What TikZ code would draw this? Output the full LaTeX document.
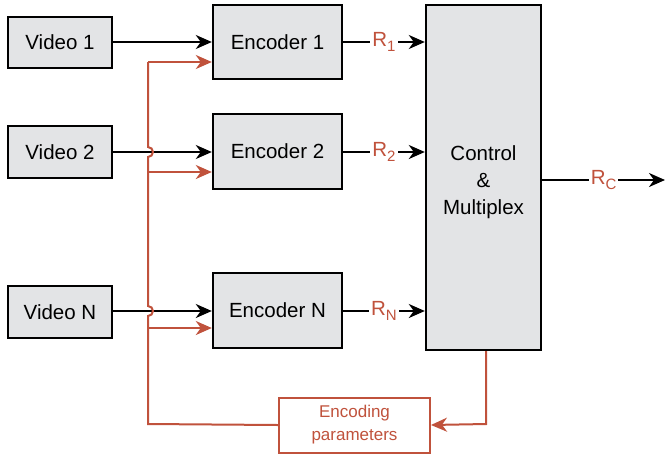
\documentclass[tikz,border=0pt]{standalone}
\usepackage{fontspec}
\setmainfont{Liberation Sans}
\usetikzlibrary{arrows.meta}
\definecolor{redc}{RGB}{192,82,60}
\definecolor{boxgray}{RGB}{227,228,230}
\tikzset{
  blk/.style={draw=black, line width=2.4pt, fill=boxgray, font=\fontsize{20.5}{24}\selectfont, inner sep=0pt},
  parbox/.style={draw=redc, line width=2pt, fill=white, text=redc, font=\fontsize{17}{23}\selectfont, align=center, inner sep=0pt},
  barrow/.style={line width=2pt, -{Stealth[length=16pt,width=14pt,inset=5pt]}},
  rarrow/.style={draw=redc, line width=2pt, -{Stealth[length=16pt,width=14pt,inset=5pt]}},
  rline/.style={draw=redc, line width=2pt},
  rlab/.style={fill=white, text=redc, inner sep=2pt, font=\fontsize{20.5}{24}\selectfont},
}
\newcommand{\Rsub}[1]{R\raisebox{-0.45ex}{\fontsize{15}{15}\selectfont #1}}
\begin{document}
\begin{tikzpicture}[x=1pt,y=-1pt]
\useasboundingbox (0,0) rectangle (666,456);
% nodes
\node[blk, minimum width=104pt, minimum height=51pt] (v1) at (60,42.5) {Video 1};
\node[blk, minimum width=104pt, minimum height=52pt] (v2) at (60,152) {Video 2};
\node[blk, minimum width=104pt, minimum height=52pt] (vN) at (60,312) {Video N};
\node[blk, minimum width=129pt, minimum height=74pt] (e1) at (277.5,42) {Encoder 1};
\node[blk, minimum width=129pt, minimum height=75pt] (e2) at (277.5,151.5) {Encoder 2};
\node[blk, minimum width=129pt, minimum height=75pt] (eN) at (277.5,310.5) {Encoder N};
\node[blk, minimum width=115pt, minimum height=345pt] (ctrl) at (483.5,177.5) {};
\node[align=center, inner sep=0pt, font=\fontsize{20.5}{27}\selectfont] (ctrltext) at (483.5,182) {Control\\\&\\Multiplex};
\node[parbox, minimum width=151pt, minimum height=55pt] (ep) at (354.5,425) {Encoding\\parameters};
\coordinate (out) at (665,180);
\coordinate (tl) at (148,62);
\coordinate (bl) at (148,424);
\coordinate (br) at (486,424);
% black input arrows
\draw[barrow] (v1.east |- 0,42) -- (e1.west |- 0,42);
\draw[barrow] (v2.east |- 0,152) -- (e2.west |- 0,152);
\draw[barrow] (vN.east |- 0,311) -- (eN.west |- 0,311);
% rate arrows
\draw[barrow] (e1.east |- 0,42) -- node[rlab]{\Rsub{1}} (ctrl.west |- 0,42);
\draw[barrow] (e2.east |- 0,152) -- node[rlab]{\Rsub{2}} (ctrl.west |- 0,152);
\draw[barrow] (eN.east |- 0,311) -- node[rlab]{\Rsub{N}} (ctrl.west |- 0,311);
\draw[barrow] (ctrl.east |- out) -- node[rlab]{\Rsub{C}} (out);
% red feedback
\draw[rarrow] (ctrl.south -| br) -- (br) -- (ep.east);
\draw[rline] (ep.west) -- (bl) -- (148,316) arc (90:-90:5) -- (148,157) arc (90:-90:5) -- (tl);
\draw[rarrow] (tl) -- (e1.west |- tl);
\draw[rarrow] (148,172) -- (e2.west |- 0,172);
\draw[rarrow] (148,328) -- (eN.west |- 0,328);
\end{tikzpicture}
\end{document}
